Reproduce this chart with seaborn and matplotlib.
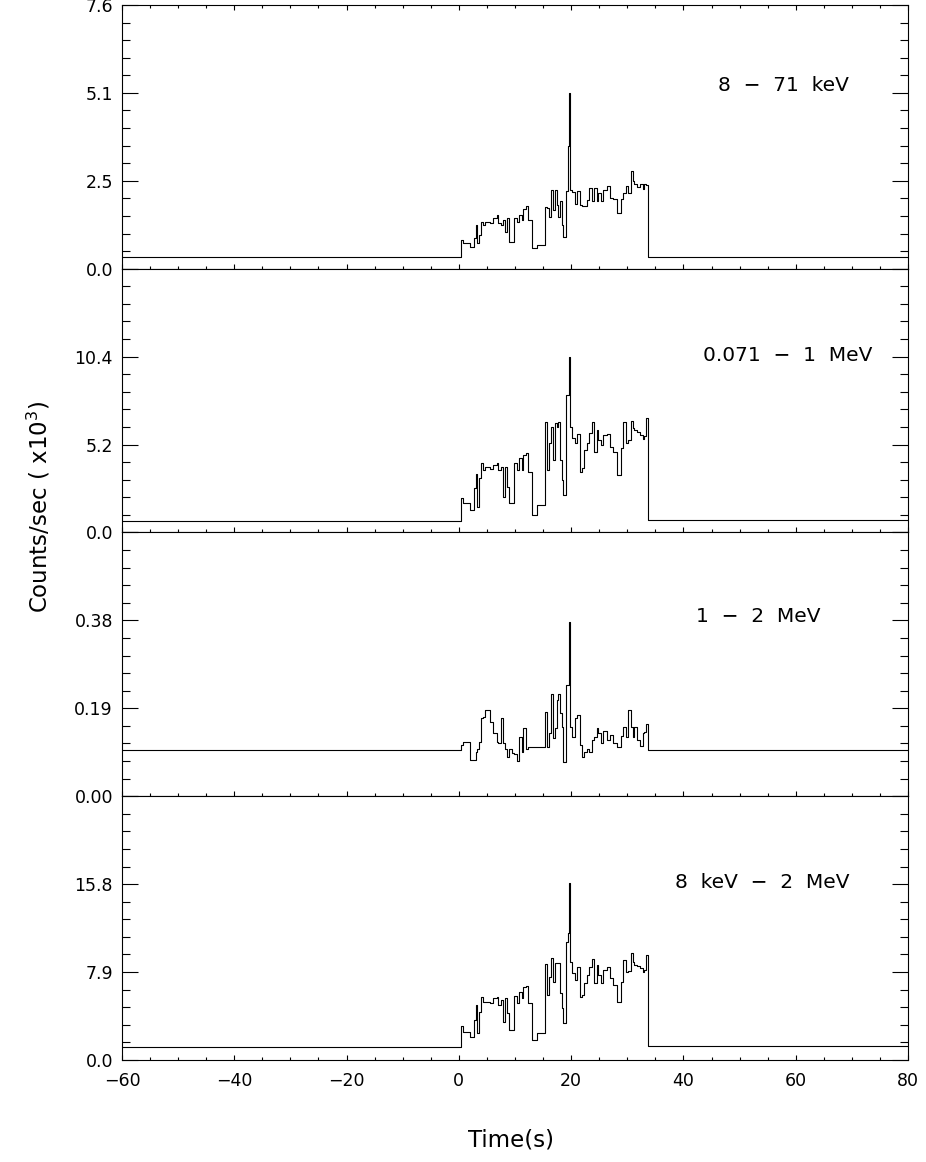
import matplotlib
matplotlib.use("Agg")
import numpy as np
import pandas as pd
import seaborn as sns
import matplotlib.pyplot as plt
from matplotlib.ticker import FixedLocator, MultipleLocator

# bin edges of the burst (s), shared by all four bands
edges = [0.30, 0.77, 1.96, 2.67, 3.03, 3.27, 3.62, 3.92, 4.22, 4.63,
         5.52, 6.12, 6.71, 7.01, 7.43, 7.78, 8.20, 8.61, 8.97, 9.39,
         9.80, 10.40, 10.75, 11.17, 11.46, 11.94, 12.36, 12.95, 13.84, 15.33,
         15.74, 16.10, 16.45, 16.81, 17.11, 17.40, 17.70, 18.00, 18.30, 18.59,
         19.07, 19.48, 19.60, 19.72, 19.84, 20.08, 20.67, 20.97, 21.56, 21.86,
         22.28, 22.75, 23.23, 23.64, 24.06, 24.53, 24.83, 25.25, 25.72, 26.31,
         26.91, 27.50, 28.22, 28.81, 29.17, 29.76, 30.18, 30.59, 30.95, 31.19,
         31.66, 32.25, 32.73, 32.97, 33.32, 33.68]

bands = ["8  −  71  keV", "0.071  −  1  MeV", "1  −  2  MeV", "8  keV  −  2  MeV"]

# background levels: (-60..-41, -41..0.3, after burst)
bkg_8_71 = [0.335, 0.33, 0.35]
bkg_071_1 = [0.705, 0.70, 0.74]
bkg_1_2 = [0.0995, 0.099, 0.099]
bkg_all = [1.205, 1.20, 1.29]

rate_8_71 = [0.83, 0.73, 0.64, 0.88, 1.27, 0.73, 0.98, 1.36, 1.27, 1.36,
             1.32, 1.46, 1.56, 1.32, 1.27, 1.41, 1.07, 1.46, 0.78, 0.76,
             1.46, 1.34, 1.56, 1.41, 1.73, 1.80, 1.41, 0.61, 0.67, 1.77,
             1.75, 1.48, 2.28, 1.70, 2.28, 1.84, 1.50, 1.94, 1.26, 0.91,
             2.25, 3.54, 5.06, 3.54, 2.28, 2.21, 1.86, 2.25, 1.84, 1.80,
             1.82, 1.99, 2.33, 1.94, 2.33, 1.94, 2.18, 1.96, 2.26, 2.38,
             2.04, 2.02, 1.60, 2.01, 2.18, 2.38, 2.18, 2.81, 2.52, 2.43,
             2.35, 2.43, 2.31, 2.43, 2.41]

rate_071_1 = [2.02, 1.73, 1.33, 2.61, 3.46, 1.53, 3.21, 4.09, 3.70, 3.85,
              3.74, 3.99, 4.09, 3.70, 3.89, 2.12, 3.89, 2.71, 1.73, 1.73,
              4.13, 3.70, 4.39, 3.70, 4.59, 4.68, 3.60, 1.04, 1.63, 6.56,
              3.70, 5.28, 6.26, 4.29, 6.46, 6.26, 6.56, 4.29, 3.11, 2.22,
              8.14, 8.14, 10.40, 8.14, 6.26, 5.57, 5.28, 5.83, 3.60, 3.80,
              4.88, 5.28, 5.87, 6.56, 4.78, 6.07, 5.47, 5.18, 5.77, 5.83,
              5.08, 4.78, 3.40, 4.98, 6.56, 5.28, 5.47, 6.62, 6.16, 6.07,
              5.97, 5.77, 5.51, 5.71, 6.76]

rate_1_2 = [0.110, 0.118, 0.078, 0.078, 0.096, 0.101, 0.118, 0.168, 0.172, 0.186,
            0.161, 0.136, 0.118, 0.114, 0.168, 0.114, 0.103, 0.085, 0.103, 0.093,
            0.091, 0.077, 0.127, 0.096, 0.147, 0.103, 0.107, 0.107, 0.106, 0.181,
            0.107, 0.136, 0.222, 0.125, 0.147, 0.208, 0.222, 0.179, 0.150, 0.073,
            0.240, 0.240, 0.377, 0.168, 0.150, 0.129, 0.168, 0.175, 0.111, 0.084,
            0.096, 0.103, 0.096, 0.122, 0.127, 0.147, 0.136, 0.114, 0.142, 0.122,
            0.132, 0.114, 0.106, 0.130, 0.149, 0.127, 0.186, 0.150, 0.127, 0.149,
            0.122, 0.108, 0.136, 0.139, 0.157]

rate_all = [3.05, 2.55, 2.10, 3.59, 4.94, 2.46, 4.34, 5.69, 5.24, 5.24,
            5.09, 5.54, 5.69, 4.94, 5.39, 3.38, 5.54, 4.19, 2.70, 2.70,
            5.78, 5.09, 6.14, 5.54, 6.53, 6.65, 5.09, 1.80, 2.46, 8.60,
            5.84, 7.49, 9.13, 7.04, 8.69, 8.69, 8.69, 5.99, 4.64, 3.29,
            10.63, 11.38, 15.87, 11.38, 8.83, 7.79, 7.19, 8.39, 5.69, 5.84,
            6.89, 7.64, 8.39, 9.07, 6.89, 8.54, 7.64, 6.95, 8.09, 8.39,
            7.34, 6.74, 5.24, 7.04, 8.98, 7.94, 8.03, 9.58, 8.83, 8.54,
            8.45, 8.24, 7.94, 8.09, 9.43]

y_max = [7.6, 15.6, 0.57, 23.7]
y_ticklabels = [["0.0", "2.5", "5.1", "7.6"],
                ["0.0", "5.2", "10.4", ""],
                ["0.00", "0.19", "0.38", ""],
                ["0.0", "7.9", "15.8", ""]]

rates = [rate_8_71, rate_071_1, rate_1_2, rate_all]
bkgs = [bkg_8_71, bkg_071_1, bkg_1_2, bkg_all]

frames = []
for band, rate, bkg in zip(bands, rates, bkgs):
    t = [-60.0, -41.0] + edges + [80.0]
    r = [bkg[0], bkg[1]] + rate + [bkg[2], bkg[2]]
    frames.append(pd.DataFrame({"time": t, "rate": r, "band": band}))
data = pd.concat(frames, ignore_index=True)

sns.set_style("ticks")
plt.rcParams["font.family"] = ["DejaVu Sans"]
plt.rcParams["axes.linewidth"] = 0.8
plt.rcParams["text.color"] = "black"
plt.rcParams["axes.edgecolor"] = "black"

fig, axes = plt.subplots(4, 1, figsize=(9.26, 11.62), dpi=100, sharex=True,
                         gridspec_kw=dict(hspace=0))
fig.subplots_adjust(left=0.1317, right=0.9806, top=0.9957, bottom=0.0878)

label_pos = [(0.842, 0.695), (0.847, 0.67), (0.809, 0.68), (0.815, 0.674)]

for i, ax in enumerate(axes):
    band = bands[i]
    sns.lineplot(data=data[data["band"] == band], x="time", y="rate", ax=ax,
                 color="black", linewidth=0.8, drawstyle="steps-post",
                 estimator=None, legend=False)
    ax.set_xlim(-60, 80)
    ax.set_ylim(0, y_max[i])
    ax.set_xlabel("")
    ax.set_ylabel("")

    ax.xaxis.set_major_locator(MultipleLocator(20))
    ax.xaxis.set_minor_locator(MultipleLocator(5))
    ax.yaxis.set_major_locator(FixedLocator([y_max[i] * k / 3 for k in range(4)]))
    ax.set_yticklabels(y_ticklabels[i])
    ax.yaxis.set_minor_locator(MultipleLocator(y_max[i] / 15))

    ax.tick_params(axis="both", which="both", direction="in", right=True,
                   top=(i == 0), width=0.8, colors="black")
    ax.tick_params(axis="y", which="major", length=11.3, labelsize=12.5, pad=6.5)
    ax.tick_params(axis="y", which="minor", length=5.6)
    ax.tick_params(axis="x", which="major", length=3.8, labelsize=12.5, pad=9)
    ax.tick_params(axis="x", which="minor", length=1.9)

    ax.text(label_pos[i][0], label_pos[i][1], band, transform=ax.transAxes,
            ha="center", va="center", fontsize=14.5)

fig.text(0.042, 0.564, "Counts/sec ( x10$^{3}$)", rotation=90,
         ha="center", va="center", fontsize=16.5)
fig.text(0.552, 0.019, "Time(s)", ha="center", va="center", fontsize=16.5)

fig.savefig("out.png", dpi=100)
